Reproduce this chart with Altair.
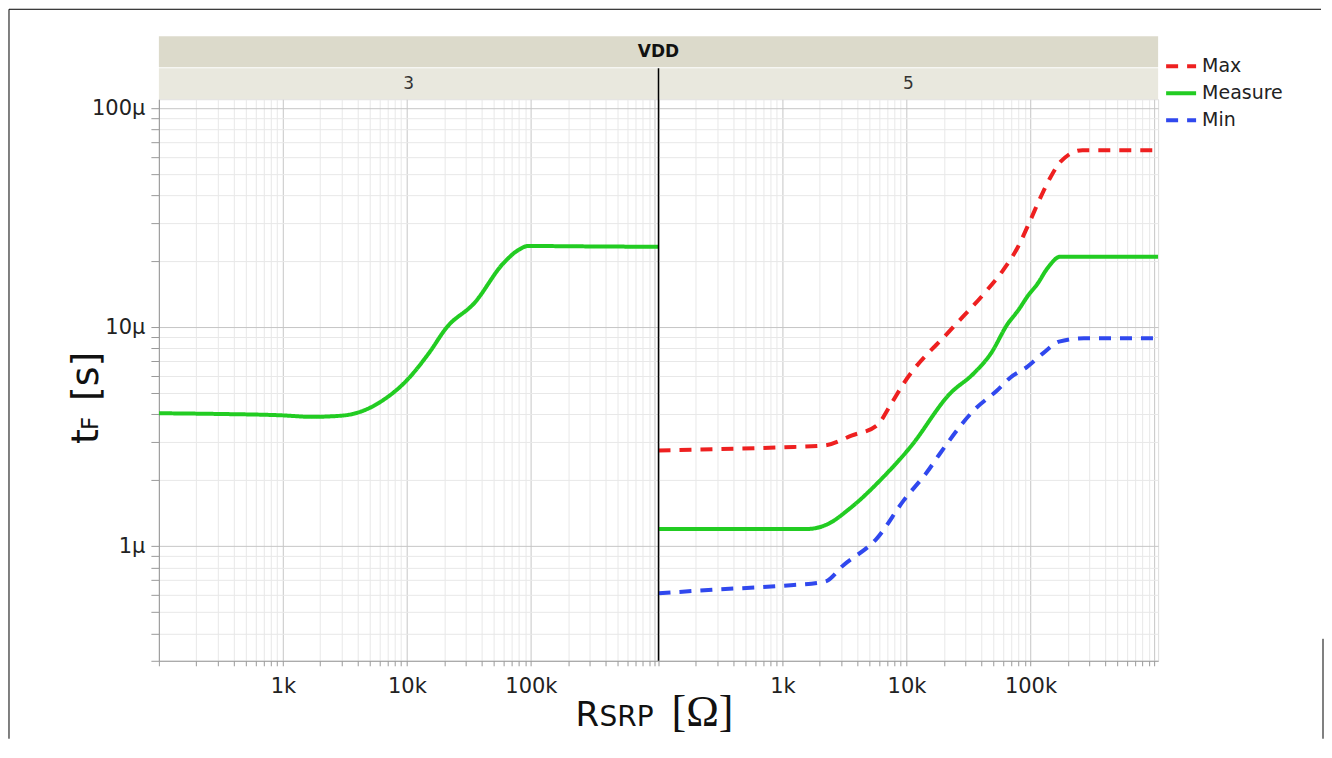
import altair as alt
import pandas as pd

# ---------------- data ----------------
vdd_values = ["3", "5"]
header_title = "VDD"

series_names = ["Max", "Measure", "Min"]
series_colors = ["#ee2020", "#22cc22", "#3048ee"]
series_dashes = [[12, 9], [1, 0], [12, 9]]

# VDD = 3 : Measure only
v3_measure_r = [100, 300, 1000, 1700, 3000, 4500, 6400, 10000, 15000, 21000, 35000,
                60000, 79000, 95000, 300000, 1070000]
v3_measure_t = [4.05e-6, 4.02e-6, 3.96e-6, 3.90e-6, 3.95e-6, 4.17e-6, 4.64e-6, 5.73e-6,
                7.6e-6, 10.0e-6, 12.9e-6, 19.6e-6, 22.5e-6, 23.5e-6, 23.4e-6, 23.3e-6]

# VDD = 5
v5_max_r = [100, 300, 1000, 2200, 3600, 5800, 7400, 9500, 22600, 42000, 60000, 79000,
            100000, 120000, 145000, 175000, 263000, 1070000]
v5_max_t = [2.74e-6, 2.78e-6, 2.83e-6, 2.89e-6, 3.2e-6, 3.57e-6, 4.4e-6, 5.55e-6, 9.7e-6,
            14.2e-6, 18.2e-6, 23.2e-6, 30.9e-6, 39e-6, 48.4e-6, 57e-6, 64.4e-6, 64.4e-6]

v5_measure_r = [100, 1000, 1600, 2300, 3500, 6500, 10700, 22600, 35000, 48000, 65000,
                80000, 96000, 114000, 137000, 174000, 1070000]
v5_measure_t = [1.2e-6, 1.2e-6, 1.2e-6, 1.26e-6, 1.49e-6, 2.07e-6, 2.83e-6, 5.0e-6, 6.17e-6,
                7.6e-6, 10.3e-6, 12.0e-6, 14.0e-6, 15.8e-6, 18.6e-6, 21.0e-6, 21.0e-6]

v5_min_r = [100, 300, 1000, 2200, 3100, 5800, 9500, 14800, 18700, 35000, 54000,
            69000, 94000, 126000, 170000, 270000, 1070000]
v5_min_t = [0.61e-6, 0.635e-6, 0.66e-6, 0.69e-6, 0.82e-6, 1.09e-6, 1.62e-6, 2.2e-6,
            2.66e-6, 4.18e-6, 5.16e-6, 5.9e-6, 6.6e-6, 7.6e-6, 8.6e-6, 8.9e-6, 8.9e-6]

x_tick_values = [1000, 10000, 100000]
x_tick_labels = ["1k", "10k", "100k"]
y_tick_values = [1e-6, 1e-5, 1e-4]
y_tick_labels = ["1µ", "10µ", "100µ"]

x_title_main, x_title_sub, x_title_unit = "R", "SRP", "[Ω]"
y_title_main, y_title_sub, y_title_unit = "t", "F", "[s]"

# ---------------- tables ----------------
def frame(series, r, t):
    return pd.DataFrame({"series": series, "r": r, "t": t})

df3 = frame("Measure", v3_measure_r, v3_measure_t)
df5 = pd.concat([frame("Max", v5_max_r, v5_max_t),
                 frame("Measure", v5_measure_r, v5_measure_t),
                 frame("Min", v5_min_r, v5_min_t)], ignore_index=True)

# ---------------- styling ----------------
FONT = "DejaVu Sans"
PW, PH = 500, 562
X_DOMAIN = [100, 1.07e6]
Y_DOMAIN = [3.0e-7, 1.1e-4]

x_grid = [m * 10.0 ** e for e in range(2, 7) for m in range(1, 10)
          if X_DOMAIN[0] <= m * 10.0 ** e <= X_DOMAIN[1]]
y_grid = [m * 10.0 ** e for e in range(-7, -3) for m in range(1, 10)
          if Y_DOMAIN[0] * 0.999 <= m * 10.0 ** e <= Y_DOMAIN[1]]

decade_test = "abs(log(datum.value)/LN10 - round(log(datum.value)/LN10)) < 0.001"
grid_color = {"condition": {"test": decade_test, "value": "#c6c6c6"}, "value": "#e8e8e8"}


def label_expr(values, labels):
    expr = "''"
    for v, l in reversed(list(zip(values, labels))):
        expr = f"abs(datum.value/{v!r} - 1) < 1e-6 ? '{l}' : ({expr})"
    return expr


x_axis = alt.Axis(values=x_grid, labelExpr=label_expr(x_tick_values, x_tick_labels),
                  title=None, grid=True, gridColor=grid_color, tickSize=5,
                  tickColor="#9a9a9a", domainColor="#9a9a9a", labelFontSize=21,
                  labelColor="#222222", labelFont=FONT, labelPadding=10,
                  labelOverlap=False, labelFlush=False, labelBound=False)
y_axis_left = alt.Axis(values=y_grid, labelExpr=label_expr(y_tick_values, y_tick_labels),
                       title=None, grid=True, gridColor=grid_color, tickSize=8,
                       tickColor="#9a9a9a", domainColor="#9a9a9a", labelFontSize=21,
                       labelColor="#222222", labelFont=FONT, labelPadding=6,
                       labelOverlap=False, labelFlush=False, labelBound=False)
y_axis_right = alt.Axis(values=y_grid, labels=False, ticks=False, domain=False, title=None,
                        grid=True, gridColor=grid_color)

legend = alt.Legend(title=None, orient="none", legendX=1006, legendY=-50,
                    symbolType="stroke", symbolSize=900, symbolStrokeWidth=4,
                    labelFontSize=19, labelFont=FONT, labelColor="#222222",
                    rowPadding=0, padding=0, labelOffset=4)

one = pd.DataFrame({"k": [0]})


def txt(text, x, y, size, **kw):
    return alt.Chart(pd.DataFrame({"label": [text]})).mark_text(
        fontSize=size, font=kw.pop("font", FONT), color=kw.pop("color", "#111111"), **kw
    ).encode(text="label:N", x=alt.value(x), y=alt.value(y))


def band(x0, x1, y0, y1, color):
    return alt.Chart(one).mark_rect(color=color).encode(
        x=alt.value(x0), x2=alt.value(x1), y=alt.value(y0), y2=alt.value(y1))


def rule(x0, x1, y0, y1, color="#000000", width=1):
    return alt.Chart(one).mark_rule(color=color, strokeWidth=width).encode(
        x=alt.value(x0), x2=alt.value(x1), y=alt.value(y0), y2=alt.value(y1))


def lines(df, first):
    return alt.Chart(df).mark_line(strokeWidth=4, interpolate="monotone", clip=True).encode(
        x=alt.X("r:Q", scale=alt.Scale(type="log", domain=X_DOMAIN, nice=False), axis=x_axis),
        y=alt.Y("t:Q", scale=alt.Scale(type="log", domain=Y_DOMAIN, nice=False),
                axis=y_axis_left if first else y_axis_right),
        color=alt.Color("series:N", scale=alt.Scale(domain=series_names, range=series_colors),
                        legend=legend),
        strokeDash=alt.StrokeDash("series:N",
                                  scale=alt.Scale(domain=series_names, range=series_dashes),
                                  legend=legend),
    )


left = alt.layer(
    band(0, 2 * PW, -63, -32, "#dcdacb"),
    band(0, PW, -31, 0, "#e9e8de"),
    lines(df3, True),
    txt(header_title, PW, -47, 17, fontWeight="bold", baseline="middle"),
    txt(vdd_values[0], PW / 2, -15, 17, baseline="middle", color="#333333"),
    # axis titles with subscripts
    txt(x_title_main, 417, 627, 34, align="left", baseline="alphabetic"),
    txt(x_title_sub, 441, 627, 28, align="left", baseline="alphabetic"),
    txt(x_title_unit, 513, 627, 44, align="left", baseline="alphabetic", font="Liberation Serif"),
    txt(y_title_main, -61, 345, 38, align="left", baseline="alphabetic", angle=270),
    txt(y_title_sub, -61, 331, 23, align="left", baseline="alphabetic", angle=270),
    txt(y_title_unit, -61, 302, 38, align="left", baseline="alphabetic", angle=270),
    # outer frame of the picture
    rule(-150, 1163, -90, -90),
    rule(-150, -150, -90, 640),
    rule(1165, 1165, 540, 640),
).properties(width=PW, height=PH)

right = alt.layer(
    band(0, PW, -31, 0, "#e9e8de"),
    lines(df5, False),
    txt(vdd_values[1], PW / 2, -15, 17, baseline="middle", color="#333333"),
    rule(0, 0, -31, PH, "#000000", 1.5),
).properties(width=PW, height=PH)

chart = alt.hconcat(left, right, spacing=0, bounds="flush", padding=0).resolve_scale(
    color="shared", strokeDash="shared"
).configure_view(stroke="#b4b4b4", strokeWidth=1).configure(font=FONT)

chart.save("out.html", embed_options={"renderer": "svg", "actions": False})
